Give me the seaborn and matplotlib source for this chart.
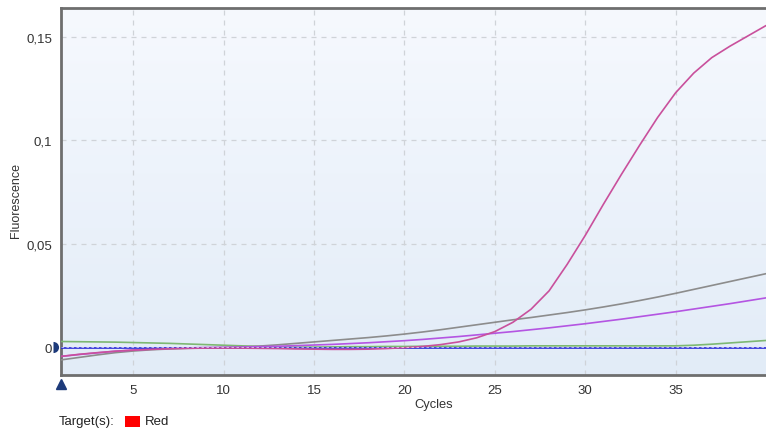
import numpy as np
import pandas as pd
import matplotlib
matplotlib.use("Agg")
import matplotlib.pyplot as plt
from matplotlib.patches import Rectangle
from matplotlib.ticker import FuncFormatter
from matplotlib.markers import MarkerStyle
import seaborn as sns

cycles = list(range(1, 41))

sample_a = [-0.0045, -0.0035, -0.0027, -0.0020, -0.0015, -0.0011, -0.0008, -0.0006, -0.0005, -0.0005,
            -0.0005, -0.0006, -0.0007, -0.0009, -0.0010, -0.0011, -0.0011, -0.0010, -0.0007, -0.0003,
            0.0003, 0.0012, 0.0025, 0.0045, 0.0075, 0.0120, 0.0183, 0.0272, 0.0400, 0.0540,
            0.0690, 0.0835, 0.0975, 0.1110, 0.1230, 0.1325, 0.1400, 0.1455, 0.1505, 0.1555]
sample_b = [-0.0062, -0.0050, -0.0038, -0.0027, -0.0019, -0.0013, -0.0009, -0.0006, -0.0004, -0.0002,
            0.0001, 0.0005, 0.0011, 0.0018, 0.0025, 0.0032, 0.0039, 0.0046, 0.0054, 0.0063,
            0.0073, 0.0084, 0.0096, 0.0108, 0.0120, 0.0132, 0.0143, 0.0155, 0.0167, 0.0180,
            0.0194, 0.0209, 0.0225, 0.0242, 0.0260, 0.0279, 0.0298, 0.0317, 0.0336, 0.0355]
sample_c = [-0.0045, -0.0036, -0.0028, -0.0020, -0.0014, -0.0009, -0.0006, -0.0004, -0.0002, -0.0001,
            0.0000, 0.0002, 0.0004, 0.0007, 0.0010, 0.0013, 0.0017, 0.0021, 0.0026, 0.0031,
            0.0037, 0.0044, 0.0051, 0.0059, 0.0067, 0.0075, 0.0084, 0.0093, 0.0103, 0.0113,
            0.0124, 0.0135, 0.0147, 0.0159, 0.0171, 0.0184, 0.0197, 0.0210, 0.0224, 0.0238]
sample_d = [0.0027, 0.0026, 0.0025, 0.0024, 0.0022, 0.0020, 0.0018, 0.0015, 0.0012, 0.0009,
            0.0006, 0.0003, 0.0001, 0.0000, 0.0000, 0.0001, 0.0002, 0.0002, 0.0003, 0.0003,
            0.0004, 0.0004, 0.0004, 0.0005, 0.0005, 0.0005, 0.0006, 0.0006, 0.0006, 0.0006,
            0.0006, 0.0006, 0.0006, 0.0006, 0.0006, 0.0009, 0.0014, 0.0020, 0.0026, 0.0032]
sample_e = [-0.0002] * 40

x_ticks = [5, 10, 15, 20, 25, 30, 35]
y_ticks = [0, 0.05, 0.1, 0.15]
threshold = 0.0

series = {"A": sample_a, "B": sample_b, "C": sample_c, "D": sample_d, "E": sample_e}
palette = {"A": "#c9509c", "B": "#8c8c8c", "C": "#b455e2", "D": "#7db872", "E": "#2a2ad8"}

df = pd.concat(
    [pd.DataFrame({"Cycle": cycles, "Fluorescence": v, "Sample": k}) for k, v in series.items()],
    ignore_index=True,
)

sns.set_style("white")
plt.rcParams["font.family"] = ["Liberation Sans", "DejaVu Sans"]

fig = plt.figure(figsize=(7.66, 4.31), dpi=100)
ax = fig.add_axes([61 / 766, 1 - 376 / 431, 1 - 61 / 766, (376 - 9) / 431])

# soft vertical gradient behind the plot area
grad = np.linspace(0, 1, 256).reshape(-1, 1)
top = np.array([0.965, 0.976, 0.996])
bot = np.array([0.886, 0.925, 0.970])
img = top[None, None, :] * (1 - grad[..., None]) + bot[None, None, :] * grad[..., None]
ax.imshow(img, extent=[0, 1, 0, 1], transform=ax.transAxes, aspect="auto", zorder=0)

ax.set_xlim(1, 40)
ax.set_ylim(-0.0135, 0.164)

for xv in x_ticks:
    ax.axvline(xv, color="#cfd3d8", lw=0.9, ls=(0, (4, 4)), zorder=1)
for yv in y_ticks[1:]:
    ax.axhline(yv, color="#cfd3d8", lw=0.9, ls=(0, (4, 4)), zorder=1)

order = ["D", "B", "C", "E", "A"]
for key in order:
    sub = df[df["Sample"] == key]
    sns.lineplot(data=sub, x="Cycle", y="Fluorescence", color=palette[key], lw=1.2,
                 ax=ax, legend=False, zorder=3)

ax.axhline(threshold, color="white", lw=0.6, ls=(0, (3, 3)), alpha=0.7, zorder=4)

ax.set_xticks(x_ticks)
ax.set_yticks(y_ticks)
ax.yaxis.set_major_formatter(FuncFormatter(lambda v, p: ("%g" % v).replace(".", ",")))
ax.tick_params(axis="both", labelsize=9.5, labelcolor="#333333", color="#555555",
               length=3, width=1, direction="out")

for side in ["left", "bottom", "top"]:
    ax.spines[side].set_color("#6e6e6e")
    ax.spines[side].set_linewidth(2.0)
ax.spines["right"].set_visible(False)

ax.set_xlabel("Cycles", fontsize=9.3, color="#333333")
ax.xaxis.set_label_coords((434 - 61) / 705, -0.063)
ax.set_ylabel("Fluorescence", fontsize=9, color="#333333")
ax.yaxis.set_label_coords((22 - 61) / 705, 0.477)

# threshold handle on the y axis and start marker below the x axis
ax.plot([-0.012], [threshold], transform=ax.get_yaxis_transform(),
        marker=MarkerStyle("o", fillstyle="right"), markersize=8, color="#1d3a7a",
        markerfacecoloralt="none", markeredgewidth=0, clip_on=False, zorder=6)
ax.plot([1], [-0.0178], marker="^", markersize=7, color="#1d3a7a", clip_on=False, zorder=6)

# target legend
fig.text(59 / 766, 1 - 422 / 431, "Target(s):", fontsize=9.5, color="#222222", va="center")
fig.patches.append(Rectangle((125 / 766, 1 - 428 / 431), 15 / 766, 11 / 431, transform=fig.transFigure,
                             facecolor="#ff0000", edgecolor="none"))
fig.text(145 / 766, 1 - 422 / 431, "Red", fontsize=9.5, color="#222222", va="center")

fig.savefig("out.png", dpi=100)
